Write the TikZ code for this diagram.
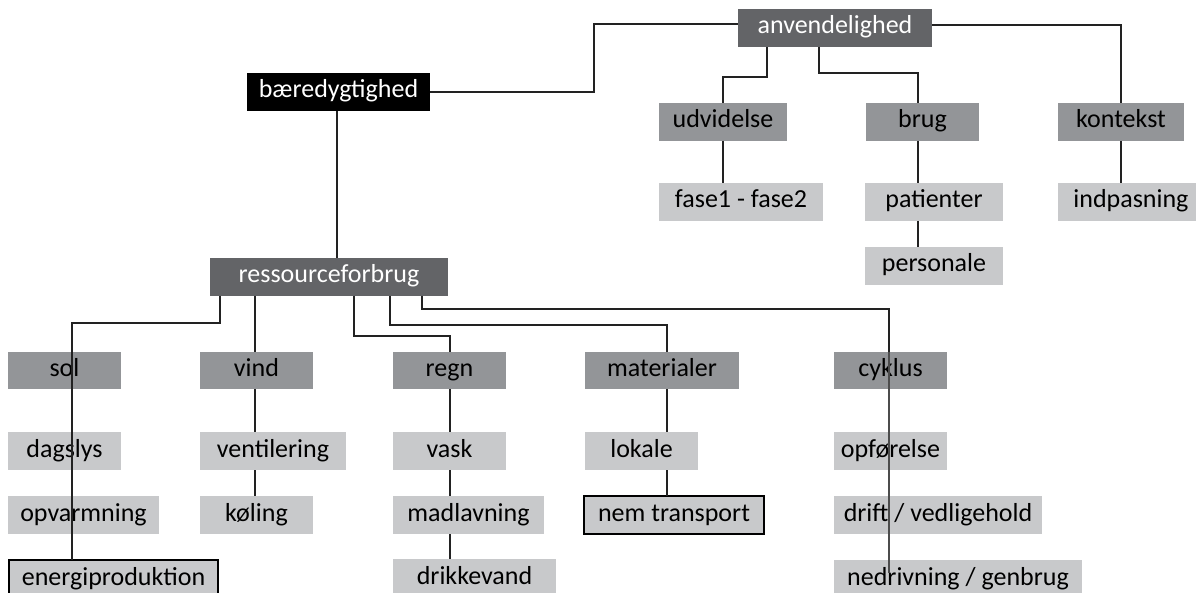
\documentclass[tikz,border=0pt]{standalone}
\usepackage{fontspec}
\setmainfont{Carlito}
\definecolor{cdark}{HTML}{636467}
\definecolor{cmid}{HTML}{939598}
\definecolor{clight}{HTML}{C8C9CB}
\definecolor{cline}{HTML}{222222}
\newcommand\bx[7]{%
  \pgfmathsetmacro\bxw{#4-#2}\pgfmathsetmacro\bxh{#5-#3}%
  \pgfmathsetmacro\bxx{(#2+#4)/2}\pgfmathsetmacro\bxy{(#3+#5)/2}%
  \node[#6, minimum width=\bxw pt, minimum height=\bxh pt] (#1) at (\bxx,\bxy) {#7};}
\tikzset{
  boxbase/.style={inner sep=0pt, outer sep=0pt, text height=18pt, text depth=6pt, font=\fontsize{26}{30}\selectfont},
  blackbox/.style={boxbase, fill=black, text=white},
  darkbox/.style={boxbase, fill=cdark, text=white},
  midbox/.style={boxbase, fill=cmid, text=black},
  leafbox/.style={boxbase, fill=clight, text=black},
  framedbox/.style={boxbase, fill=clight, text=black, draw=black, line width=2.5pt},
  conn/.style={draw=cline, line width=1.1pt},
  connlong/.style={draw=black!70, line width=1.8pt},
}
\begin{document}
\begin{tikzpicture}[x=1pt,y=-1pt]
\useasboundingbox (0,0) rectangle (1196,593);
\clip (0,0) rectangle (1196,593);
\fill[white] (0,0) rectangle (1196,593);
% top
\bx{anv}{738}{9}{932}{47}{darkbox}{anvendelighed}
\bx{baer}{247}{73}{430}{111}{blackbox}{bæredygtighed}
\bx{udv}{659}{103}{787}{141}{midbox}{udvidelse}
\bx{brug}{866}{103}{979}{141}{midbox}{brug}
\bx{kont}{1058}{103}{1184}{141}{midbox}{kontekst}
\bx{fase}{659}{183}{823}{221}{leafbox}{fase1 - fase2}
\bx{pat}{865}{183}{1003}{221}{leafbox}{patienter}
\bx{pers}{865}{247}{1003}{285}{leafbox}{personale}
\bx{indp}{1058}{183}{1200}{221}{leafbox}{\hspace*{4pt}indpasning}
\bx{res}{210}{258}{448}{296}{darkbox}{ressourceforbrug}
% row 1
\bx{sol}{8}{352}{121}{389}{midbox}{sol}
\bx{vind}{200}{352}{313}{389}{midbox}{vind}
\bx{regn}{393}{352}{506}{389}{midbox}{regn}
\bx{mat}{585}{352}{739}{389}{midbox}{materialer}
\bx{cyk}{834}{352}{947}{389}{midbox}{cyklus}
% row 2
\bx{dag}{8}{432}{121}{470}{leafbox}{dagslys}
\bx{vent}{200}{432}{346}{470}{leafbox}{ventilering}
\bx{vask}{393}{432}{506}{470}{leafbox}{vask}
\bx{lok}{585}{432}{698}{470}{leafbox}{lokale}
\bx{opf}{834}{432}{947}{470}{leafbox}{opførelse}
% row 3
\bx{opv}{8}{496}{159}{534}{leafbox}{opvarmning}
\bx{koel}{200}{496}{313}{534}{leafbox}{køling}
\bx{mad}{393}{496}{544}{534}{leafbox}{madlavning}
\bx{nem}{584}{496}{764}{534}{framedbox}{nem transport}
\bx{drift}{834}{496}{1042}{534}{leafbox}{drift / vedligehold}
% row 4
\bx{ener}{9}{560}{218}{598}{framedbox}{energiproduktion}
\bx{drik}{393}{559}{556}{597}{leafbox}{drikkevand}
\bx{nedr}{834}{560}{1082}{598}{leafbox}{nedrivning / genbrug}
% connectors top
\draw[conn] (baer.east) -- (594,0 |- baer.east) -- (594,24) -- (anv.west |- 0,24);
\draw[conn] (767,0 |- anv.south) -- (767,77) -- (723,77) -- (723,0 |- udv.north);
\draw[conn] (819,0 |- anv.south) -- (819,73) -- (918,73) -- (918,0 |- brug.north);
\draw[conn] (anv.east |- 0,25) -- (1121,25) -- (1121,0 |- kont.north);
\draw[conn] (723,0 |- udv.south) -- (723,0 |- fase.north);
\draw[conn] (918,0 |- brug.south) -- (918,0 |- pat.north);
\draw[conn] (918,0 |- pat.south) -- (918,0 |- pers.north);
\draw[conn] (1121,0 |- kont.south) -- (1121,0 |- indp.north);
\draw[conn] (337,0 |- baer.south) -- (337,0 |- res.north);
% connectors ressourceforbrug
\draw[conn] (220,0 |- res.south) -- (220,323) -- (72,323) -- (72,0 |- ener.north);
\draw[conn] (255,0 |- res.south) -- (255,0 |- vind.north);
\draw[conn] (354,0 |- res.south) -- (354,336) -- (450,336) -- (450,0 |- regn.north);
\draw[conn] (390,0 |- res.south) -- (390,325) -- (667,325) -- (667,0 |- mat.north);
\draw[conn] (422,0 |- res.south) -- (422,309) -- (889,309) -- (889,0 |- cyk.north);
\draw[connlong] (889,0 |- cyk.north) -- (889,573);
% columns
\draw[conn] (255,0 |- vind.south) -- (255,0 |- vent.north);
\draw[conn] (255,0 |- vent.south) -- (255,0 |- koel.north);
\draw[conn] (450,0 |- regn.south) -- (450,0 |- vask.north);
\draw[conn] (450,0 |- vask.south) -- (450,0 |- mad.north);
\draw[conn] (450,0 |- mad.south) -- (450,0 |- drik.north);
\draw[conn] (667,0 |- mat.south) -- (667,0 |- lok.north);
\draw[conn] (667,0 |- lok.south) -- (667,0 |- nem.north);
\end{tikzpicture}
\end{document}
